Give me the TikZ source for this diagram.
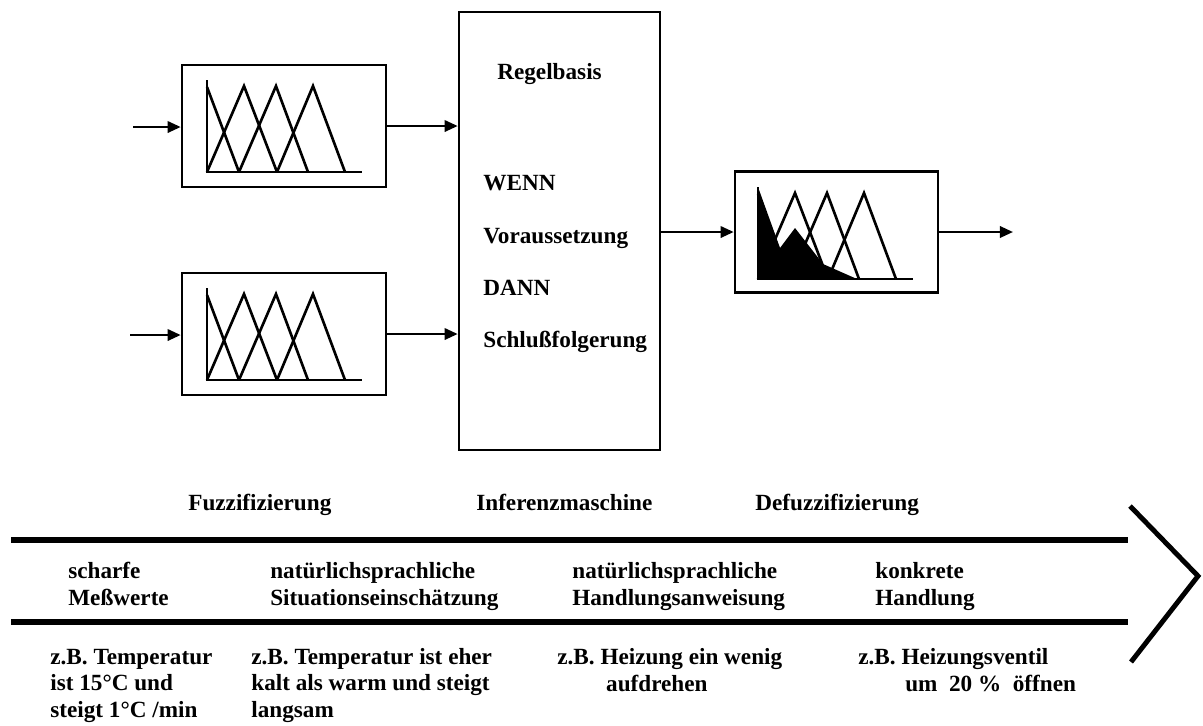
\documentclass[tikz,border=0pt]{standalone}
\usepackage{fontspec}
\setmainfont{Liberation Serif}
\usepackage{tikz}
\usetikzlibrary{positioning,arrows.meta}

% membership functions, origin at the foot of the axis
\newcommand{\mfgraph}[2]{%
  \begin{scope}[shift={(#1,#2)}]
    \draw[mfline] (0,-92) -- (0,0) -- (155,0);
    \draw[mfline] (0,-85) -- (32,0);
    \draw[mfline] (0,0) -- (37,-86) -- (70,0);
    \draw[mfline] (32,0) -- (69,-86) -- (101,0);
    \draw[mfline] (70,0) -- (106,-86) -- (138,0);
  \end{scope}}

\begin{document}
\begin{tikzpicture}[
    x=0.02cm, y=-0.02cm,
    box/.style = {
        rectangle,
        draw=black,
        line width=1.5pt,
        inner sep=0pt
    },
    fuzbox/.style = {box, minimum width=4.08cm, minimum height=2.44cm},
    mfline/.style = {line width=1.5pt},
    arrow/.style  = {-{Triangle[length=7.5pt,width=6.5pt]}, line width=1.4pt},
    bigline/.style = {line width=3.4pt},
    txt/.style = {anchor=base west, inner sep=0pt, align=left,
        font=\fontsize{13.2}{15}\selectfont\bfseries}
]

\useasboundingbox (0,0) rectangle (1203,725);

% Boxes
\node[fuzbox] (fuzA) at (284,126) {};
\node[fuzbox] (fuzB) at (284,334) {};
\node[box, minimum width=4.02cm, minimum height=8.76cm] (infer) at (559.5,231) {};
\node[box, minimum width=4.06cm, minimum height=2.42cm] (defuz) at (836.5,232) {};

% Membership functions
\mfgraph{207}{172}
\mfgraph{207}{380}
\fill (758,187) -- (780,248) -- (795,228) -- (823,264) -- (857,279) -- (758,279) -- cycle;
\mfgraph{758}{279}

% Rule base text
\node[txt] (regel)   at (497,79)  {Regelbasis};
\node[txt] (wenn)    at (483,190) {WENN};
\node[txt] (voraus)  at (483,243) {Voraussetzung};
\node[txt] (dann)    at (483,295) {DANN};
\node[txt] (schluss) at (483,347) {Schlußfolgerung};

% Arrows
\coordinate (inA) at (133,127);
\coordinate (inB) at (130,335);
\coordinate (outD) at (1013,232);
\draw[arrow] (inA) -- (inA -| fuzA.west);
\draw[arrow] (inB) -- (inB -| fuzB.west);
\draw[arrow] (fuzA.east) -- (fuzA.east -| infer.west);
\draw[arrow] (fuzB.east) -- (fuzB.east -| infer.west);
\draw[arrow] (infer.east |- defuz.west) -- (defuz.west);
\draw[arrow] (defuz.east) -- (outD);

% Stage labels
\node[txt] (lblfuz) at (188,510) {Fuzzifizierung};
\node[txt] (lblinf) at (476,510) {Inferenzmaschine};
\node[txt] (lbldef) at (755,510) {Defuzzifizierung};

% Big arrow
\draw[bigline] (11,540) -- (1128,540);
\draw[bigline] (11,622) -- (1128,622);
\draw[line width=2.8pt] (1130,506) -- (1198,576) -- (1131,662);

% Row inside the arrow (base = last line)
\node[txt] (mess)  at (68,605)  {scharfe\\Meßwerte};
\node[txt] (situ)  at (270,605) {natürlichsprachliche\\Situationseinschätzung};
\node[txt] (anw)   at (572,605) {natürlichsprachliche\\Handlungsanweisung};
\node[txt] (handl) at (875,605) {konkrete\\Handlung};

% Examples below
\node[txt] (bspA) at (50,717)  {z.B. Temperatur\\ist 15°C und\\steigt 1°C /min};
\node[txt] (bspB) at (251,717) {z.B. Temperatur ist eher\\kalt als warm und steigt\\langsam};
\node[txt] (bspC) at (557,691) {z.B. Heizung ein wenig\\\hspace*{27.8pt}aufdrehen};
\node[txt] (bspD) at (858,691) {z.B. Heizungsventil\\\hspace*{26.7pt}um~~20~\%~~öffnen};

\end{tikzpicture}
\end{document}
